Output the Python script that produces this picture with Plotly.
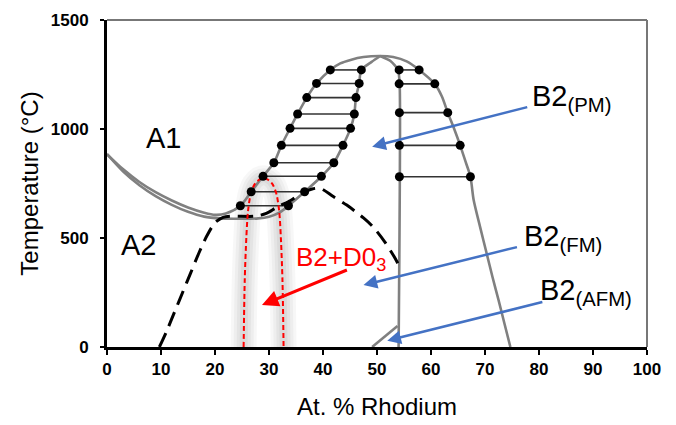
import plotly.graph_objects as go

# ---------------- data (At.% Rh, Temperature degC) ----------------
# outer boundary: A1 / two-phase (upper-left curve) -> top arc -> right B2 boundary
outer_x = [0, 3, 6, 9, 12, 15, 18, 20, 22, 24.7, 26.7, 28.9, 30.9, 32.3, 33.9, 35.3, 37.0, 38.8,
           41.35, 43.2, 45.1, 47.5, 50.6, 53.0, 55.5, 57.8, 60.7, 62.0, 63.1, 64.3, 65.4, 66.4,
           67.3, 67.9, 69.1, 70.3, 71.4, 72.5, 73.6, 74.7]
outer_t = [885, 815, 757, 710, 672, 640, 616, 606, 612, 648, 712, 784, 845, 925, 1003, 1069, 1144, 1209,
           1271, 1301, 1317, 1330, 1335, 1330, 1310, 1271, 1207, 1150, 1075, 1000, 925, 850,
           781, 674, 550, 430, 320, 216, 108, 0]
# lower-left curve -> inner B2 boundary of the lens
inner_x = [0, 3, 6, 9, 12, 15, 18, 21, 25, 28, 30, 32, 33.6, 36.6, 39.7, 42.0, 43.7, 45.1, 45.8,
           46.1, 46.7, 47.1, 49.0, 50.6]
inner_t = [885, 805, 742, 692, 652, 620, 598, 590, 588, 590, 598, 618, 648, 712, 782, 845, 925, 1003, 1069,
           1144, 1209, 1271, 1308, 1335]
# vertical B2 boundary near 54 % Rh
vert_x = [50.6, 52.5, 53.9, 54.2, 54.0]
vert_t = [1335, 1312, 1271, 1200, 0]
# AFM boundary
afm_x = [49.1, 53.8]
afm_t = [0, 96]
# dashed (magnetic) transition curve
dash_x = [9.7, 11.0, 12.5, 14.0, 15.5, 17.0, 18.5, 20.0, 21.5, 23.0, 27.4, 29.5, 31.5, 34.0, 36.0,
          38.0, 39.5, 41.9, 44.4, 47.5, 49.3, 51.5, 53.4, 54.3]
dash_t = [0, 70, 160, 250, 340, 430, 510, 570, 595, 600, 600, 613, 642, 672, 705,
          725, 728, 690, 651, 592, 550, 480, 405, 362]
# red dashed D0_3 dome
dome_x = [25.3, 25.5, 25.8, 26.1, 26.6, 27.3, 28.2, 29.0, 29.8, 30.7, 31.4, 31.9, 32.2, 32.5, 32.7]
dome_t = [0, 300, 500, 620, 700, 745, 768, 774, 768, 745, 700, 620, 500, 300, 0]
# tie lines in the left lens
tie1_t = [1271, 1209, 1144, 1069, 1003, 925, 845, 783, 712, 648]
tie1_l = [41.35, 38.8, 37.0, 35.3, 33.9, 32.3, 30.9, 28.9, 26.7, 24.7]
tie1_r = [47.1, 46.7, 46.1, 45.8, 45.1, 43.7, 42.0, 39.7, 36.6, 33.6]
# tie lines in the right lens
tie2_t = [1271, 1207, 1075, 925, 781]
tie2_l = [54.1, 54.1, 54.15, 54.15, 54.15]
tie2_r = [57.8, 60.7, 63.1, 65.4, 67.3]

x_ticks = [0, 10, 20, 30, 40, 50, 60, 70, 80, 90, 100]
y_ticks = [0, 500, 1000, 1500]

FONT = "Arial, Liberation Sans, sans-serif"
GRAY = "#808080"

fig = go.Figure()

# soft gray glow around the dome
for w, a in [(26, 0.03), (20, 0.035), (14, 0.04), (8, 0.045)]:
    fig.add_trace(go.Scatter(x=dome_x, y=dome_t, mode="lines", line=dict(color=f"rgba(0,0,0,{a})", width=w, shape="spline"),
                             hoverinfo="skip", showlegend=False))

# tie lines
for xs_l, xs_r, ts in [(tie1_l, tie1_r, tie1_t), (tie2_l, tie2_r, tie2_t)]:
    lx, ly = [], []
    for a, b, t in zip(xs_l, xs_r, ts):
        lx += [a, b, None]
        ly += [t, t, None]
    fig.add_trace(go.Scatter(x=lx, y=ly, mode="lines", line=dict(color="#333333", width=1.6),
                             hoverinfo="skip", showlegend=False))

# gray boundaries
fig.add_trace(go.Scatter(x=outer_x, y=outer_t, mode="lines", line=dict(color=GRAY, width=2.6, shape="spline", smoothing=0.8),
                         showlegend=False))
fig.add_trace(go.Scatter(x=inner_x, y=inner_t, mode="lines", line=dict(color=GRAY, width=2.6, shape="spline", smoothing=0.8),
                         showlegend=False))
fig.add_trace(go.Scatter(x=vert_x, y=vert_t, mode="lines", line=dict(color=GRAY, width=2.6, shape="spline", smoothing=0.6),
                         showlegend=False))
fig.add_trace(go.Scatter(x=afm_x, y=afm_t, mode="lines", line=dict(color=GRAY, width=2.6), showlegend=False))

# dashed black curve
fig.add_trace(go.Scatter(x=dash_x, y=dash_t, mode="lines",
                         line=dict(color="black", width=3, dash="15px,8px", shape="spline", smoothing=0.8),
                         showlegend=False))
# red dome
fig.add_trace(go.Scatter(x=dome_x, y=dome_t, mode="lines",
                         line=dict(color="#FF0000", width=2, dash="5px,3px", shape="spline", smoothing=0.8),
                         showlegend=False))

# dots
fig.add_trace(go.Scatter(x=tie1_l + tie1_r + tie2_l + tie2_r, y=tie1_t + tie1_t + tie2_t + tie2_t, mode="markers",
                         marker=dict(color="black", size=9), showlegend=False))

annotations = []
# labels
def lab(text, x, y, size, color="black", xanchor="center"):
    annotations.append(dict(x=x, y=y, xref="x", yref="y", text=text, showarrow=False,
                            font=dict(family=FONT, size=size, color=color), xanchor=xanchor, yanchor="middle"))

lab("A1", 10.5, 961, 29)
lab("A2", 5.85, 468, 29)
lab("B2<sub>(PM)</sub>", 78.4, 1140, 29, xanchor="left")
lab("B2<sub>(FM)</sub>", 76.8, 498, 29, xanchor="left")
lab("B2<sub>(AFM)</sub>", 79.9, 253, 29, xanchor="left")
lab("B2+D0<sub>3</sub>", 34.7, 405, 26, color="#FF0000", xanchor="left")

# arrows
def arrow(tail, head, color, width):
    annotations.append(dict(x=head[0], y=head[1], ax=tail[0], ay=tail[1], xref="x", yref="y", axref="x", ayref="y",
                            text="", showarrow=True, arrowhead=2, arrowsize=1.1, arrowwidth=width, arrowcolor=color))

BLUE = "#4472C4"
arrow((78.1, 1102), (49.1, 919), BLUE, 2.5)
arrow((76.2, 460), (47.5, 284), BLUE, 2.5)
arrow((80.9, 208), (51.9, 29), BLUE, 2.5)
arrow((44.7, 356), (28.7, 193), "#FF0000", 3)

fig.update_layout(
    width=676, height=425,
    margin=dict(l=107, r=29, t=20, b=78),
    paper_bgcolor="white", plot_bgcolor="white",
    annotations=annotations,
    shapes=[
        dict(type="line", xref="paper", yref="paper", x0=0, x1=1, y0=1, y1=1, line=dict(color="#777777", width=2)),
        dict(type="line", xref="paper", yref="paper", x0=1, x1=1, y0=0, y1=1, line=dict(color="#777777", width=2)),
    ],
    xaxis=dict(range=[0, 100], tickvals=x_ticks, ticktext=[f"<b>{v}</b>" for v in x_ticks],
               showgrid=False, zeroline=False, showline=True, linecolor="black", linewidth=2.5,
               ticks="outside", ticklen=5, tickwidth=2, tickcolor="black", automargin=False,
               tickfont=dict(family=FONT, size=17, color="black"),
               title=dict(text="At. % Rhodium", font=dict(family=FONT, size=24, color="black"), standoff=21)),
    yaxis=dict(range=[0, 1500], tickvals=y_ticks, ticktext=[f"<b>{v}</b>" for v in y_ticks],
               showgrid=False, zeroline=False, showline=True, linecolor="black", linewidth=3,
               ticks="outside", ticklen=4, tickwidth=2, tickcolor="black", ticklabelstandoff=8, automargin=False,
               tickfont=dict(family=FONT, size=17, color="black"),
               title=dict(text="Temperature (°C)", font=dict(family=FONT, size=24, color="black"), standoff=6)),
)

fig.write_html("out.html")
